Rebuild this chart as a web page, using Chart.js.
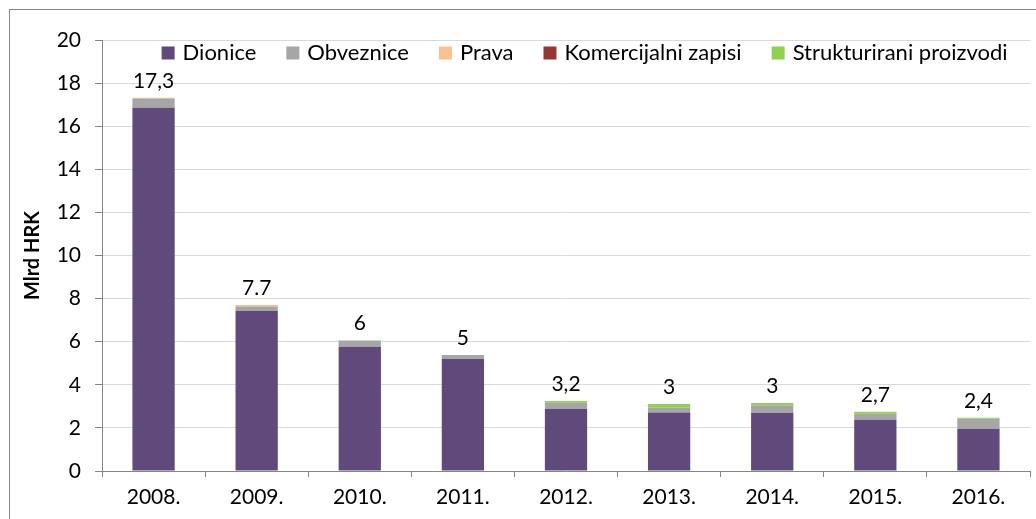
<!DOCTYPE html>
<html>
<head>
<meta charset="utf-8">
<script src="https://cdn.jsdelivr.net/npm/chart.js@4.4.1/dist/chart.umd.min.js"></script>
<style>
  body { margin: 0; background: #fff; }
  #wrap { position: relative; width: 1036px; height: 519px; overflow: hidden; }
  #frame { position: absolute; left: 9px; top: 9px; width: 1100px; height: 600px; border: 1px solid #868686; }
  canvas { position: absolute; left: 0; top: 0; }
</style>
</head>
<body>
<div id="wrap">
  <div id="frame"></div>
  <canvas id="myChart" width="1036" height="519"></canvas>
</div>
<script>
  // data
  const years = ['2008.', '2009.', '2010.', '2011.', '2012.', '2013.', '2014.', '2015.', '2016.'];
  const dionice = [16.86, 7.42, 5.77, 5.20, 2.88, 2.71, 2.69, 2.38, 1.96];
  const obveznice = [0.43, 0.21, 0.29, 0.18, 0.29, 0.23, 0.36, 0.28, 0.47];
  const prava = [0.03, 0.07, 0, 0, 0, 0, 0, 0, 0];
  const komercijalni = [0, 0, 0, 0, 0, 0, 0, 0, 0];
  const strukturirani = [0, 0, 0, 0, 0.08, 0.17, 0.11, 0.09, 0.04];
  const totalLabels = ['17,3', '7.7', '6', '5', '3,2', '3', '3', '2,7', '2,4'];
  const yTicks = [0, 2, 4, 6, 8, 10, 12, 14, 16, 18, 20];

  const font = 'Lato, "Open Sans", sans-serif';

  // draws the total above each stacked bar
  const totalsPlugin = {
    id: 'totals',
    afterDatasetsDraw(chart) {
      const ctx = chart.ctx;
      const meta = chart.getDatasetMeta(0);
      const y = chart.scales.y;
      ctx.save();
      ctx.font = '21px ' + font;
      ctx.fillStyle = '#000';
      ctx.textAlign = 'center';
      ctx.textBaseline = 'middle';
      meta.data.forEach((bar, i) => {
        const sum = dionice[i] + obveznice[i] + prava[i] + komercijalni[i] + strukturirani[i];
        ctx.fillText(totalLabels[i], bar.x, y.getPixelForValue(sum) - 17);
      });
      ctx.restore();
    }
  };

  // legend drawn in one row inside the plot, just under the top gridline
  const inlineLegend = {
    id: 'inlineLegend',
    afterDraw(chart) {
      const ctx = chart.ctx;
      const area = chart.chartArea;
      const box = 13, gap = 8, itemGap = 30;
      ctx.save();
      ctx.font = '22px ' + font;
      ctx.textBaseline = 'middle';
      const items = chart.data.datasets.map(d => ({ text: d.label, color: d.backgroundColor, w: ctx.measureText(d.label).width }));
      const total = items.reduce((s, it) => s + box + gap + it.w, 0) + itemGap * (items.length - 1);
      let x = area.left + area.width * 0.52 - total / 2;
      const cy = area.top + 13;
      items.forEach(it => {
        ctx.fillStyle = it.color;
        ctx.fillRect(x, cy - box / 2, box, box);
        ctx.fillStyle = '#000';
        ctx.fillText(it.text, x + box + gap, cy);
        x += box + gap + it.w + itemGap;
      });
      ctx.restore();
    }
  };

  const ctx = document.getElementById('myChart').getContext('2d');
  const myChart = new Chart(ctx, {
    type: 'bar',
    data: {
      labels: years,
      datasets: [
        { label: 'Dionice', data: dionice, backgroundColor: '#604a7b' },
        { label: 'Obveznice', data: obveznice, backgroundColor: '#a6a6a6' },
        { label: 'Prava', data: prava, backgroundColor: '#fac090' },
        { label: 'Komercijalni zapisi', data: komercijalni, backgroundColor: '#953735' },
        { label: 'Strukturirani proizvodi', data: strukturirani, backgroundColor: '#92d050' }
      ]
    },
    options: {
      responsive: false,
      animation: false,
      layout: { padding: { left: 0, right: 6, top: 40, bottom: 0 } },
      datasets: { bar: { categoryPercentage: 1, barPercentage: 0.41, borderWidth: 0 } },
      plugins: {
        legend: { display: false },
        tooltip: { enabled: false }
      },
      scales: {
        x: {
          stacked: true,
          grid: { display: true, drawOnChartArea: false, offset: true, tickLength: 6, tickColor: '#868686' },
          border: { color: '#868686' },
          ticks: { color: '#000', font: { family: font, size: 21 }, padding: 8 },
          afterFit: s => { s.height = 48; }
        },
        y: {
          stacked: true,
          min: 0,
          max: 20,
          afterBuildTicks: s => { s.ticks = yTicks.map(v => ({ value: v })); },
          grid: { color: '#d9d9d9', tickColor: '#868686', tickLength: 7 },
          border: { color: '#868686' },
          ticks: { color: '#000', font: { family: font, size: 21 }, padding: 14 },
          title: {
            display: true,
            text: 'Mlrd HRK',
            color: '#000',
            font: { family: font, size: 20, weight: 'bold' },
            padding: { top: 21, bottom: 0 }
          },
          afterFit: s => { s.width = 102; }
        }
      }
    },
    plugins: [totalsPlugin, inlineLegend]
  });
</script>
</body>
</html>
